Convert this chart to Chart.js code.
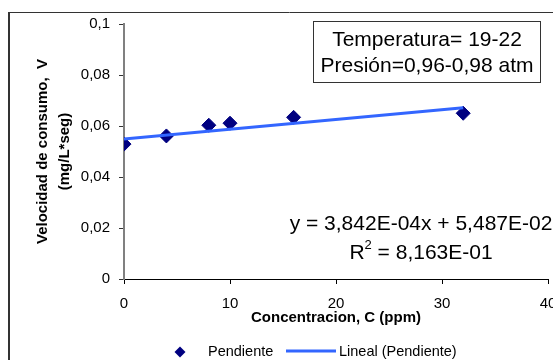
<!DOCTYPE html>
<html>
<head>
<meta charset="utf-8">
<script src="https://cdn.jsdelivr.net/npm/chart.js@4.4.1/dist/chart.umd.min.js"></script>
<style>
  html, body { margin: 0; padding: 0; background: #fff; overflow: hidden; }
  #marco { width: 553px; height: 360px; overflow: hidden; }
  canvas { display: block; }
</style>
</head>
<body>
<div id="marco"><canvas id="grafico" width="570" height="380"></canvas></div>
<script>
// datos
const concentracion = [0, 4, 8, 10, 16, 32];
const velocidad = [0.0529, 0.0561, 0.0603, 0.0611, 0.0634, 0.0650];

// recta de tendencia (Lineal)
const pendiente = 3.842e-4;
const intercepto = 5.487e-2;
const rectaX = [0, 32];

const ticksY = ['0', '0,02', '0,04', '0,06', '0,08', '0,1'];
const textoCaja = ['Temperatura= 19-22', 'Presión=0,96-0,98 atm'];
const ecuacion = 'y = 3,842E-04x + 5,487E-02';
const valorR2 = ' = 8,163E-01';

const fuente = "'Liberation Sans', Arial, sans-serif";
const colorPunto = '#000080';
const colorRecta = '#3366FF';

// --- dibujos extra: marco, caja de condiciones, ecuacion y leyenda ---
const extras = {
    id: 'extras',
    beforeDraw(chart) {
        const ctx = chart.ctx;
        ctx.save();
        ctx.fillStyle = '#fff';
        ctx.fillRect(0, 0, chart.width, chart.height);
        ctx.restore();
    },
    afterDraw(chart) {
        const ctx = chart.ctx;
        ctx.save();

        // marco exterior
        ctx.strokeStyle = '#333';
        ctx.lineWidth = 2;
        ctx.beginPath();
        ctx.moveTo(9, 380); ctx.lineTo(9, 12);
        ctx.stroke();
        ctx.lineWidth = 1;
        ctx.beginPath();
        ctx.moveTo(9, 12.5); ctx.lineTo(570, 12.5);
        ctx.stroke();

        // caja de condiciones
        ctx.strokeStyle = '#333';
        ctx.strokeRect(313.5, 21.5, 227, 61);
        ctx.fillStyle = '#000';
        ctx.font = '21px ' + fuente;
        ctx.textAlign = 'center';
        ctx.textBaseline = 'alphabetic';
        ctx.fillText(textoCaja[0], 427, 46);
        ctx.fillText(textoCaja[1], 427, 72);

        // ecuacion de la recta
        ctx.fillText(ecuacion, 421, 230);
        const wR = ctx.measureText('R').width;
        const wV = ctx.measureText(valorR2).width;
        ctx.font = '13px ' + fuente;
        const w2 = ctx.measureText('2').width;
        const x0 = 421 - (wR + w2 + wV) / 2;
        ctx.textAlign = 'left';
        ctx.font = '21px ' + fuente;
        ctx.fillText('R', x0, 259);
        ctx.fillText(valorR2, x0 + wR + w2, 259);
        ctx.font = '13px ' + fuente;
        ctx.fillText('2', x0 + wR, 249);

        // leyenda
        const yl = 352;
        ctx.fillStyle = colorPunto;
        ctx.beginPath();
        ctx.moveTo(180 - 5.5, yl); ctx.lineTo(180, yl - 5.5);
        ctx.lineTo(180 + 5.5, yl); ctx.lineTo(180, yl + 5.5);
        ctx.closePath();
        ctx.fill();
        ctx.strokeStyle = colorRecta;
        ctx.lineWidth = 3;
        ctx.beginPath();
        ctx.moveTo(286, yl - 1); ctx.lineTo(336, yl - 1);
        ctx.stroke();
        ctx.fillStyle = '#000';
        ctx.font = '14.5px ' + fuente;
        ctx.textBaseline = 'middle';
        ctx.fillText(chart.data.datasets[1].label, 208, yl);
        ctx.fillText(chart.data.datasets[0].label, 339, yl);

        ctx.restore();
    }
};

new Chart(document.getElementById('grafico'), {
    type: 'scatter',
    data: {
        datasets: [{
            type: 'line',
            label: 'Lineal (Pendiente)',
            data: rectaX.map(x => ({ x: x, y: pendiente * x + intercepto })),
            borderColor: colorRecta,
            borderWidth: 3,
            pointRadius: 0,
            fill: false,
            order: 0
        }, {
            label: 'Pendiente',
            data: concentracion.map((x, i) => ({ x: x, y: velocidad[i] })),
            pointStyle: 'rectRot',
            pointRadius: 7,
            backgroundColor: colorPunto,
            borderColor: colorPunto,
            borderWidth: 1,
            order: 1
        }]
    },
    options: {
        responsive: false,
        animation: false,
        layout: { padding: { top: 24, right: 22, bottom: 53, left: 0 } },
        plugins: {
            legend: { display: false },
            tooltip: { enabled: false }
        },
        scales: {
            x: {
                type: 'linear',
                min: 0,
                max: 40,
                ticks: { stepSize: 10, color: '#000', padding: 11, maxRotation: 0, font: { family: fuente, size: 15 } },
                grid: { drawOnChartArea: false, tickLength: 5, color: '#000' },
                border: { color: '#000', width: 1 },
                title: {
                    display: true,
                    text: 'Concentracion, C (ppm)',
                    color: '#000',
                    padding: 0,
                    font: { family: fuente, size: 15, weight: 'bold' }
                },
                afterFit(s) { s.height = 48; s.paddingLeft = 0; s.paddingRight = 0; }
            },
            y: {
                min: 0,
                max: 0.1,
                ticks: { stepSize: 0.02, color: '#000', padding: 9, font: { family: fuente, size: 15 },
                         callback: (v, i) => ticksY[i] },
                grid: { drawOnChartArea: false, tickLength: 5, color: '#333' },
                border: { color: '#808080', width: 2 },
                title: {
                    display: true,
                    text: ['Velocidad de consumo,  V', '(mg/L*seg)'],
                    color: '#000',
                    padding: { top: 32, bottom: 0 },
                    font: { family: fuente, size: 15, weight: 'bold', lineHeight: 22 / 15 }
                },
                afterFit(s) { s.width = 124; s.paddingTop = 0; s.paddingBottom = 0; }
            }
        }
    },
    plugins: [extras]
});
</script>
</body>
</html>
